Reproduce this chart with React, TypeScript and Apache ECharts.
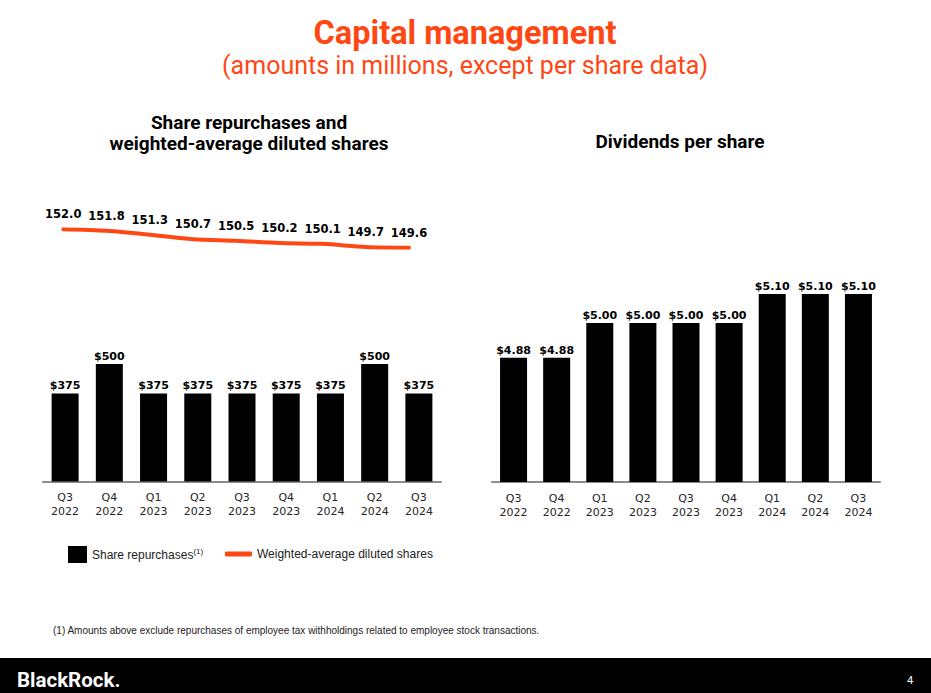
import React, { useEffect, useRef } from "react";
import * as echarts from "echarts";

const quarters = ["Q3\n2022", "Q4\n2022", "Q1\n2023", "Q2\n2023", "Q3\n2023", "Q4\n2023", "Q1\n2024", "Q2\n2024", "Q3\n2024"];
const repurchases = [375, 500, 375, 375, 375, 375, 375, 500, 375];
const dilutedShares = [152.0, 151.8, 151.3, 150.7, 150.5, 150.2, 150.1, 149.7, 149.6];
const dividends = [4.88, 4.88, 5.0, 5.0, 5.0, 5.0, 5.1, 5.1, 5.1];

const ORANGE = "#FF4713";
const LABEL_FONT = "DejaVu Sans";

export default function App() {
  const ref = useRef<HTMLDivElement>(null);
  useEffect(() => {
    if (!ref.current) return;
    const chart = echarts.init(ref.current, undefined, { renderer: "svg" });
    const catAxis = (gridIndex: number) => ({
      type: "category" as const,
      gridIndex,
      data: quarters,
      axisTick: { show: false },
      axisLine: { show: true, lineStyle: { color: "#8c8c8c", width: 2 } },
      axisLabel: { color: "#262626", fontFamily: LABEL_FONT, fontSize: 11, lineHeight: 14, margin: 9 },
    });
    const barLabel = (fmt: (v: number) => string) => ({
      show: true,
      position: "top" as const,
      distance: 2,
      color: "#000",
      fontFamily: LABEL_FONT,
      fontWeight: "bold" as const,
      fontSize: 11,
      formatter: (p: any) => fmt(p.value),
    });
    chart.setOption({
      animation: false,
      backgroundColor: "#fff",
      grid: [
        { left: 43, width: 398, top: 364, height: 117.5 },
        { left: 63.3, width: 345.7, top: 229.3, height: 18.4 },
        { left: 492, width: 388, top: 294, height: 188 },
      ],
      xAxis: [
        catAxis(0),
        { type: "category", gridIndex: 1, data: quarters, boundaryGap: false, show: false },
        catAxis(2),
      ],
      yAxis: [
        { type: "value", gridIndex: 0, min: 0, max: 500, show: false, splitLine: { show: false } },
        { type: "value", gridIndex: 1, min: 149.6, max: 152.0, show: false, splitLine: { show: false } },
        { type: "value", gridIndex: 2, min: 4.45, max: 5.1, show: false, splitLine: { show: false } },
      ],
      legend: [
        {
          data: ["Share repurchases"],
          left: 63,
          top: 541,
          itemWidth: 19,
          itemHeight: 17,
          icon: "rect",
          formatter: (name: string) => `{a|${name}}{s|(1)}`,
          textStyle: {
            fontFamily: "Liberation Sans",
            fontSize: 12,
            color: "#222",
            rich: {
              a: { fontFamily: "Liberation Sans", fontSize: 12, color: "#222" },
              s: { fontFamily: "Liberation Sans", fontSize: 8, color: "#222", padding: [0, 0, 6, 0] },
            },
          },
        },
        {
          data: ["Weighted-average diluted shares"],
          left: 220,
          top: 543,
          itemWidth: 27,
          itemHeight: 5,
          icon: "roundRect",
          textStyle: { fontFamily: "Liberation Sans", fontSize: 12, color: "#222" },
        },
      ],
      series: [
        {
          name: "Share repurchases",
          type: "bar",
          xAxisIndex: 0,
          yAxisIndex: 0,
          data: repurchases,
          barWidth: 27,
          itemStyle: { color: "#000" },
          label: barLabel((v) => `$${v}`),
        },
        {
          name: "Weighted-average diluted shares",
          type: "line",
          xAxisIndex: 1,
          yAxisIndex: 1,
          data: dilutedShares,
          smooth: 0.3,
          symbol: "circle",
          symbolSize: 2,
          showSymbol: true,
          lineStyle: { color: ORANGE, width: 4, cap: "round" },
          itemStyle: { color: ORANGE },
          label: {
            show: true,
            position: "top",
            distance: 8,
            color: "#000",
            fontFamily: LABEL_FONT,
            fontWeight: "bold",
            fontSize: 11.5,
            formatter: (p: any) => Number(p.value).toFixed(1),
          },
        },
        {
          name: "Dividends per share",
          type: "bar",
          xAxisIndex: 2,
          yAxisIndex: 2,
          data: dividends,
          barWidth: 27,
          itemStyle: { color: "#000" },
          label: barLabel((v) => `$${v.toFixed(2)}`),
        },
      ],
      graphic: [
        {
          type: "text",
          x: 465,
          y: 33,
          style: { text: "Capital management", font: "bold 32.5px Roboto", fill: ORANGE, align: "center", verticalAlign: "middle" },
        },
        {
          type: "text",
          x: 465,
          y: 65,
          style: { text: "(amounts in millions, except per share data)", font: "25px Roboto", fill: ORANGE, align: "center", verticalAlign: "middle" },
        },
        {
          type: "text",
          x: 249,
          y: 122,
          style: { text: "Share repurchases and", font: "bold 19px Roboto", fill: "#000", align: "center", verticalAlign: "middle" },
        },
        {
          type: "text",
          x: 249,
          y: 143,
          style: { text: "weighted-average diluted shares", font: "bold 19px Roboto", fill: "#000", align: "center", verticalAlign: "middle" },
        },
        {
          type: "text",
          x: 680,
          y: 141,
          style: { text: "Dividends per share", font: "bold 19px Roboto", fill: "#000", align: "center", verticalAlign: "middle" },
        },
        {
          type: "text",
          x: 53,
          y: 630,
          style: {
            text: "(1) Amounts above exclude repurchases of employee tax withholdings related to employee stock transactions.",
            font: "10px 'Liberation Sans'",
            fill: "#222",
            align: "left",
            verticalAlign: "middle",
          },
        },
        { type: "rect", shape: { x: 0, y: 658, width: 931, height: 35 }, style: { fill: "#000" } },
        {
          type: "text",
          x: 17,
          y: 680,
          style: { text: "BlackRock.", font: "bold 20.5px Roboto", fill: "#fff", align: "left", verticalAlign: "middle" },
        },
        {
          type: "text",
          x: 910,
          y: 680,
          style: { text: "4", font: "11px Roboto", fill: "#fff", align: "center", verticalAlign: "middle" },
        },
      ],
    });
    return () => chart.dispose();
  }, []);
  return (
    <div
      ref={ref}
      style={{ position: "fixed", left: 0, top: 0, width: 931, height: 693, background: "#fff" }}
    />
  );
}
